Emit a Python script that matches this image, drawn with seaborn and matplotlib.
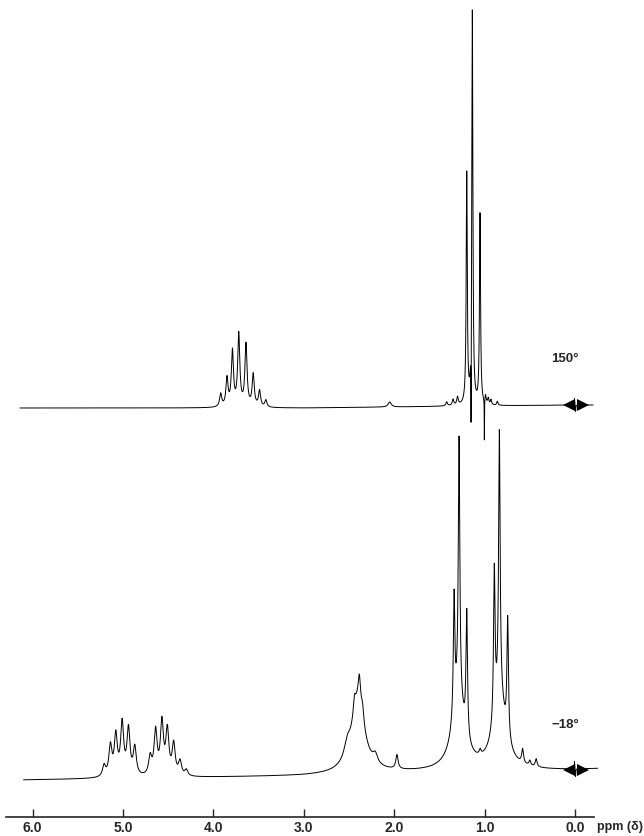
import numpy as np
import pandas as pd
import seaborn as sns
import matplotlib.pyplot as plt

# 150 deg trace: line positions (ppm), heights, half widths
hot_pos = [3.92, 3.85, 3.79, 3.72, 3.64, 3.56, 3.49, 3.42, 2.05,
           1.42, 1.35, 1.30, 1.198, 1.136, 1.15, 1.051, 1.003,
           0.99, 0.96, 0.93, 0.86, 0.006, -0.006]
hot_height = [13, 28, 55, 72, 62, 32, 16, 7, 5,
              4, 6, 8, 230, 394, -100, 190, -42,
              8, 6, 5, 4, 7, -7]
hot_width = [0.014, 0.014, 0.014, 0.014, 0.014, 0.014, 0.014, 0.014, 0.02,
             0.01, 0.01, 0.01, 0.007, 0.007, 0.002, 0.007, 0.0015,
             0.008, 0.008, 0.008, 0.008, 0.003, 0.003]

# -18 deg trace
cold_pos = [5.21, 5.14, 5.08, 5.01, 4.94, 4.87,
            4.70, 4.64, 4.57, 4.51, 4.44, 4.37, 4.30,
            2.52, 2.44, 2.40, 2.386, 2.35, 2.21, 1.97,
            1.338, 1.283, 1.198, 1.29, 1.05,
            0.893, 0.837, 0.745, 0.835, 0.58, 0.50, 0.43,
            0.006, -0.006]
cold_height = [11, 30, 40, 52, 46, 28,
               18, 44, 52, 44, 31, 14, 6,
               14, 15, 72, 25, 12, 9, 14,
               120, 258, 125, 70, 5,
               150, 263, 119, 70, 14, 5, 8,
               8, -8]
cold_width = [0.02, 0.02, 0.02, 0.02, 0.02, 0.02,
              0.02, 0.02, 0.02, 0.02, 0.02, 0.02, 0.02,
              0.04, 0.015, 0.085, 0.015, 0.015, 0.03, 0.015,
              0.01, 0.01, 0.01, 0.08, 0.012,
              0.01, 0.01, 0.01, 0.08, 0.012, 0.012, 0.012,
              0.003, 0.003]

# baselines (ppm, level)
hot_base_ppm = [6.14, 3.0, 0.0, -0.2]
hot_base_val = [428, 428, 431, 431]
cold_base_ppm = [6.1, 3.0, 2.0, 0.0, -0.25]
cold_base_val = [56, 60, 63, 66, 67]

ticks = [6.0, 5.0, 4.0, 3.0, 2.0, 1.0, 0.0]
tick_labels = ["6.0", "5.0", "4.0", "3.0", "2.0", "1.0", "0.0"]


def trace(ppm, pos, height, width):
    y = np.zeros_like(ppm)
    for p, h, w in zip(pos, height, width):
        y += h / (1 + ((ppm - p) / w) ** 2)
    return y


ppm_hot = np.linspace(6.14, -0.2, 25000)
ppm_cold = np.linspace(6.1, -0.25, 25000)
hot = pd.DataFrame({
    "ppm": ppm_hot,
    "y": np.interp(ppm_hot, hot_base_ppm[::-1], hot_base_val[::-1])
         + trace(ppm_hot, hot_pos, hot_height, hot_width)})
cold = pd.DataFrame({
    "ppm": ppm_cold,
    "y": np.interp(ppm_cold, cold_base_ppm[::-1], cold_base_val[::-1])
         + trace(ppm_cold, cold_pos, cold_height, cold_width)})

sns.set_style("white")
plt.rcParams['font.family'] = ['Liberation Sans', 'DejaVu Sans']
plt.rcParams['font.weight'] = 'bold'

fig = plt.figure(figsize=(6.44, 8.36), dpi=100)
ax = fig.add_axes([0, 0, 1, 1])
sns.lineplot(data=hot, x="ppm", y="y", ax=ax, color="black", lw=0.7,
             estimator=None, sort=False)
sns.lineplot(data=cold, x="ppm", y="y", ax=ax, color="black", lw=0.7,
             estimator=None, sort=False)

# reference (TMS) markers
for yb in (431, 66):
    ax.plot(0.065, yb, marker="<", color="black", ms=8, mew=0)
    ax.plot(-0.085, yb, marker=">", color="black", ms=8, mew=0)

ax.set_xlim(6.361, -0.763)
ax.set_ylim(0, 836)
for s in ["top", "right", "left"]:
    ax.spines[s].set_visible(False)
ax.spines["bottom"].set_position(("data", 19))
ax.spines["bottom"].set_bounds(-0.21, 6.29)
ax.spines["bottom"].set_linewidth(1.2)
ax.set_xticks(ticks)
ax.set_xticklabels(tick_labels)
ax.set_yticks([])
ax.tick_params(axis="x", direction="in", length=6, width=1, pad=3,
               labelsize=10, bottom=True)
ax.set_xlabel("")
ax.set_ylabel("")

ax.text(-0.24, 9, "ppm (δ)", fontsize=9, fontweight="bold",
        ha="left", va="center")
ax.text(0.11, 477, "150°", fontsize=9.5, fontweight="bold",
        ha="center", va="center")
ax.text(0.11, 111, "−18°", fontsize=9.5, fontweight="bold",
        ha="center", va="center")

plt.savefig("out.png", dpi=100)
